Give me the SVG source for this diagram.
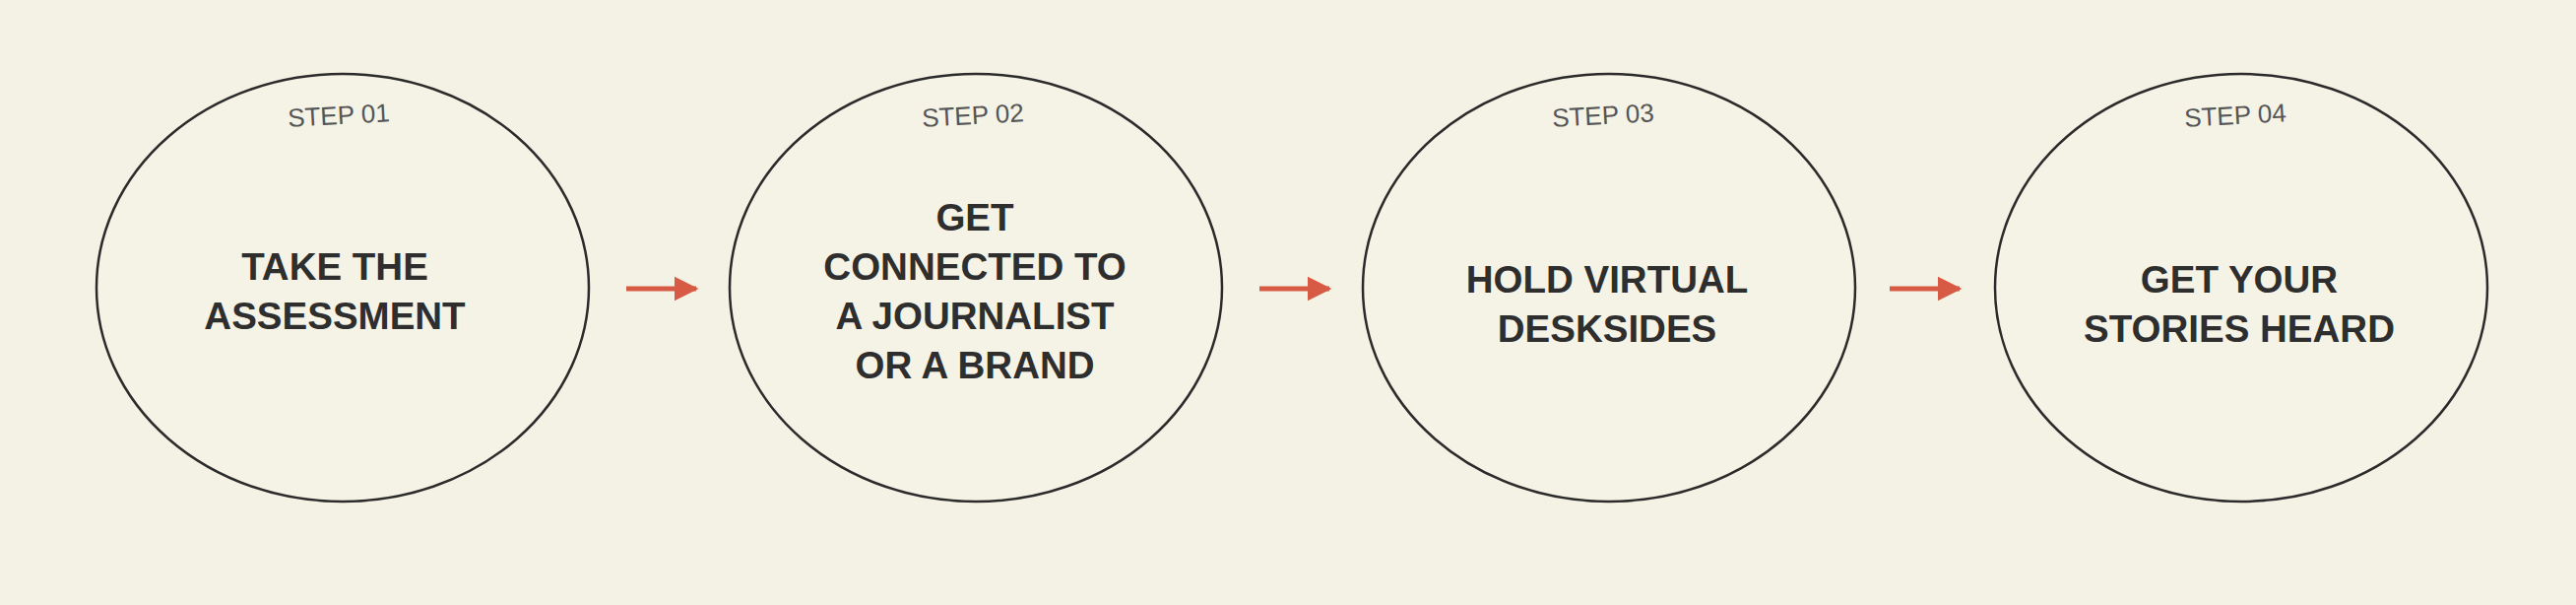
<svg xmlns="http://www.w3.org/2000/svg" width="2616" height="614" viewBox="0 0 2616 614">
<style>
.bg{fill:#f4f2e4}
.node ellipse{fill:#f5f3e6;stroke:#2b2b2b;stroke-width:2.5}
.step{font-family:"Liberation Sans",Arial,sans-serif;font-size:26px;fill:#555;text-anchor:middle}
.title{font-family:"Liberation Sans",Arial,sans-serif;font-size:38.5px;font-weight:bold;fill:#2e2e2e;text-anchor:middle}
.conn line{stroke:#d65a44;stroke-width:5}
</style>
<defs>
<marker id="ah" viewBox="0 0 10 10" refX="9" refY="5" markerWidth="5" markerHeight="5.2" orient="auto" markerUnits="strokeWidth">
<path d="M0,0 L10,5 L0,10 Z" fill="#d65a44"/>
</marker>
</defs>
<rect class="bg" x="0" y="0" width="2616" height="614"/>
<g id="node1" class="node">
<ellipse cx="348" cy="292" rx="250" ry="217"/>
<text class="step" x="344" y="126" transform="rotate(-3 344 118)">STEP 01</text>
<text class="title" x="340" y="284">TAKE THE</text>
<text class="title" x="340" y="334">ASSESSMENT</text>
</g>
<g id="node2" class="node">
<ellipse cx="991" cy="292" rx="250" ry="217"/>
<text class="step" x="988" y="126" transform="rotate(-3 988 118)">STEP 02</text>
<text class="title" x="990" y="234">GET</text>
<text class="title" x="990" y="284">CONNECTED TO</text>
<text class="title" x="990" y="334">A JOURNALIST</text>
<text class="title" x="990" y="384">OR A BRAND</text>
</g>
<g id="node3" class="node">
<ellipse cx="1634" cy="292" rx="250" ry="217"/>
<text class="step" x="1628" y="126" transform="rotate(-3 1628 118)">STEP 03</text>
<text class="title" x="1632" y="297">HOLD VIRTUAL</text>
<text class="title" x="1632" y="347">DESKSIDES</text>
</g>
<g id="node4" class="node">
<ellipse cx="2276" cy="292" rx="250" ry="217"/>
<text class="step" x="2270" y="126" transform="rotate(-3 2270 118)">STEP 04</text>
<text class="title" x="2274" y="297">GET YOUR</text>
<text class="title" x="2274" y="347">STORIES HEARD</text>
</g>
<g id="connectors" class="conn">
<line x1="636" y1="293" x2="707" y2="293" marker-end="url(#ah)"/>
<line x1="1279" y1="293" x2="1350" y2="293" marker-end="url(#ah)"/>
<line x1="1919" y1="293" x2="1990" y2="293" marker-end="url(#ah)"/>
</g>
</svg>
